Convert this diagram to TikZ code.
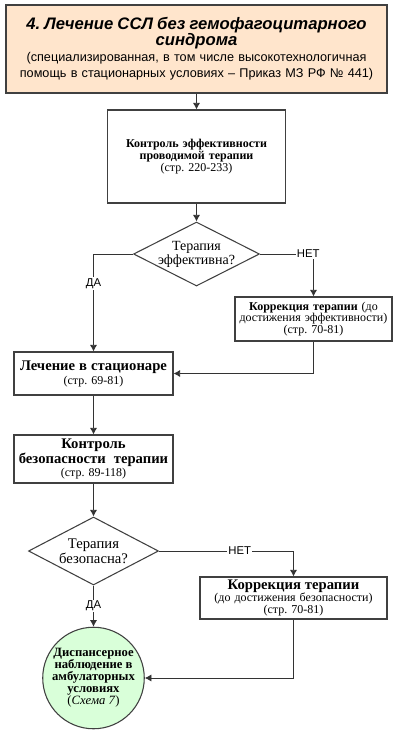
\documentclass[tikz,border=0pt]{standalone}
\usepackage{fontspec}
\setmainfont{Liberation Serif}
\newfontfamily\arial{Liberation Sans}
\usetikzlibrary{arrows.meta,positioning,shapes.geometric}
\frenchspacing

\begin{document}
\lineskiplimit=-5pt
\begin{tikzpicture}[
        x=0.75pt, y=-0.75pt,
        box/.style={draw=black!75, line width=0.8pt, inner sep=1pt, align=center},
        decision/.style={diamond, draw=black!75, line width=0.8pt, inner sep=0pt},
        arrow/.style={-{Latex[length=5pt, width=5.5pt]}, line width=0.7pt, draw=black!80},
        answer/.style={fill=white, inner sep=1pt, font=\arial\fontsize{8.5}{9}\selectfont}
      ]
      \useasboundingbox (0,0) rectangle (398,733);
      \node[box, fill=orange!20, minimum width=285.75pt, minimum height=66pt, text width=283pt,
        font=\arial\fontsize{9.5}{12}\selectfont] (title) at (196.5,49)
        {{\bfseries\itshape\fontsize{12.5}{12}\selectfont 4. Лечение ССЛ без гемофагоцитарного\\синдрома}\\
         (специализированная, в том числе высокотехнологичная\\помощь в стационарных условиях – Приказ МЗ РФ № 441)};
      \node[box, minimum width=133.5pt, minimum height=69.75pt, text width=131pt,
        font=\fontsize{9}{9}\selectfont] (ctrleff) at (196.5,156.5)
        {\textbf{Контроль эффективности}\\\textbf{проводимой терапии}\\(стр. 220-233)};
      \node[decision, minimum width=94.5pt, minimum height=48pt] (effq) at (196.5,254) {};
      \node[align=center, font=\fontsize{10.5}{10.5}\selectfont] at (effq) {Терапия\\эффективна?};
      \node[box, minimum width=117.75pt, minimum height=33pt, text width=115pt,
        font=\fontsize{9}{8.7}\selectfont] (correff) at (313.5,319)
        {\textbf{Коррекция терапии} (до\\достижения эффективности)\\(стр. 70-81)};
      \node[box, minimum width=119.25pt, minimum height=32.25pt, text width=117pt,
        font=\fontsize{9}{10.5}\selectfont] (ward) at (93.5,373.5)
        {{\bfseries\fontsize{11}{11}\selectfont Лечение в стационаре}\\(стр. 69-81)};
      \node[box, minimum width=119.25pt, minimum height=36pt, text width=117pt,
        font=\fontsize{9}{9.4}\selectfont] (ctrlsafe) at (93.5,459)
        {{\bfseries\fontsize{11}{10}\selectfont Контроль\\безопасности~ терапии}\\(стр. 89-118)};
      \node[decision, minimum width=97.5pt, minimum height=51pt] (safeq) at (93.5,551) {};
      \node[align=center, font=\fontsize{11}{11}\selectfont] at (safeq) {Терапия\\безопасна?};
      \node[box, minimum width=140.25pt, minimum height=31.5pt, text width=138pt,
        font=\fontsize{9}{9}\selectfont] (corrsafe) at (293.5,598)
        {{\bfseries\fontsize{11}{10}\selectfont Коррекция терапии}\\(до достижения безопасности)\\(стр. 70-81)};
      \node[circle, draw=black!75, line width=0.8pt, fill=green!15, minimum size=74.25pt, inner sep=0pt, align=center,
        font=\fontsize{9.5}{9}\selectfont] (followup) at (93.5,678)
        {\textbf{Диспансерное}\\\textbf{наблюдение в}\\\textbf{амбулаторных}\\\textbf{условиях}\\(\textit{Схема 7})};
      \draw[arrow] (title) -- (ctrleff);
      \draw[arrow] (ctrleff) -- (effq);
      \draw[arrow] (effq.west) -| node[answer, pos=0.65] {ДА} (ward.north);
      \draw[arrow] (effq.east) -| node[answer, pos=0.5, xshift=-4pt] {НЕТ} (correff.north);
      \draw[arrow] (correff.south) |- (ward.east);
      \draw[arrow] (ward) -- (ctrlsafe);
      \draw[arrow] (ctrlsafe) -- (safeq);
      \draw[arrow] (safeq.east) -| node[answer, pos=0.3] {НЕТ} (corrsafe.north);
      \draw[arrow] (safeq.south) -- node[answer] {ДА} (followup.north);
      \draw[arrow] (corrsafe.south) |- (followup.east);
    \end{tikzpicture}
\end{document}
